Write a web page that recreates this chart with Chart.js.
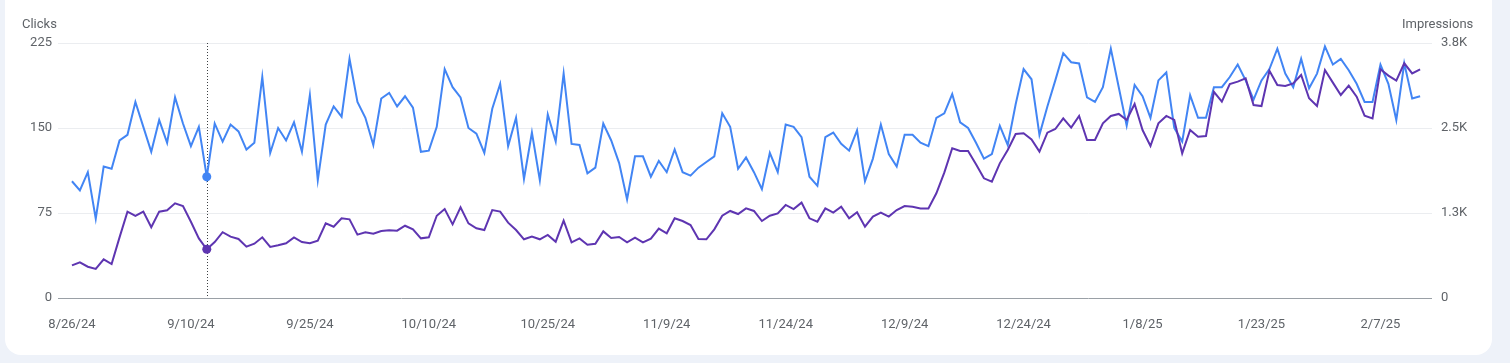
<!DOCTYPE html>
<html>
<head>
<meta charset="utf-8">
<script src="https://cdn.jsdelivr.net/npm/chart.js@4.4.1/dist/chart.umd.min.js"></script>
<style>
    body { margin: 0; background: #eef2f9; font-family: Roboto, sans-serif; overflow: hidden; }
    .card { position: absolute; left: 5px; top: -20px; width: 1487px; height: 375px; background: #fff; border-radius: 16px; }
    .wrap { position: absolute; left: 0; top: 0; width: 1510px; height: 363px; }
    .axis-title { position: absolute; top: 16px; font-size: 13px; line-height: 16px; color: #5f6368; }
</style>
</head>
<body>
<div class="card"></div>
<div class="wrap"><canvas id="gscChart"></canvas></div>
<div class="axis-title" style="left:22px">Clicks</div>
<div class="axis-title" style="left:1402px">Impressions</div>
<script>
// one value per day, 8/26/24 .. 2/12/25
let clicks = [
    103, 95, 111, 70, 116, 114, 139, 144, 173, 151,
    129, 157, 137, 177, 154, 134, 151, 107, 154, 138,
    153, 147, 131, 137, 195, 128, 150, 139, 155, 129,
    179, 104, 153, 169, 160, 211, 173, 159, 135, 176,
    181, 169, 178, 168, 129, 130, 151, 202, 186, 177,
    150, 145, 128, 167, 189, 134, 159, 105, 146, 104,
    162, 138, 198, 136, 135, 110, 115, 154, 139, 119,
    87, 125, 125, 107, 121, 111, 131, 111, 108, 115,
    120, 125, 163, 151, 114, 124, 111, 96, 128, 111,
    153, 151, 142, 107, 99, 142, 146, 136, 130, 148,
    103, 123, 153, 127, 116, 144, 144, 137, 134, 159,
    163, 180, 155, 150, 137, 123, 127, 152, 135, 171,
    202, 193, 144, 169, 192, 216, 208, 207, 177, 173,
    186, 220, 186, 152, 188, 178, 159, 192, 199, 150,
    138, 179, 159, 159, 186, 186, 195, 206, 192, 175,
    192, 202, 220, 198, 186, 211, 185, 198, 222, 206,
    211, 201, 189, 173, 173, 206, 189, 157, 207, 176,
    178
];

let impressions = [
    480, 525, 460, 427, 568, 500, 892, 1270, 1207, 1270,
    1040, 1270, 1290, 1392, 1353, 1122, 877, 717, 823, 967,
    902, 868, 755, 798, 892, 750, 775, 805, 892, 823,
    805, 843, 1098, 1048, 1172, 1157, 932, 967, 945, 985,
    995, 990, 1063, 1010, 877, 892, 1210, 1308, 1083, 1333,
    1098, 1025, 1000, 1293, 1270, 1108, 1000, 863, 902, 863,
    927, 828, 1137, 818, 877, 783, 798, 980, 882, 897,
    818, 887, 818, 872, 1020, 952, 1172, 1132, 1073, 868,
    863, 1010, 1210, 1280, 1235, 1318, 1280, 1132, 1210, 1245,
    1368, 1308, 1402, 1172, 1123, 1318, 1255, 1343, 1172, 1260,
    1048, 1197, 1255, 1197, 1293, 1353, 1343, 1318, 1318, 1540,
    1843, 2202, 2162, 2162, 1967, 1760, 1710, 1980, 2177, 2412,
    2422, 2333, 2152, 2432, 2485, 2642, 2505, 2677, 2323, 2323,
    2568, 2677, 2707, 2618, 2853, 2470, 2235, 2568, 2677, 2618,
    2127, 2470, 2372, 2382, 3033, 2887, 3147, 3182, 3230, 2838,
    2823, 3343, 3132, 3118, 3157, 3280, 2937, 2823, 3353, 3167,
    2985, 3123, 2960, 2682, 2642, 3363, 3270, 3197, 3452, 3303,
    3363
];

let dateTicks = ['8/26/24', '9/10/24', '9/25/24', '10/10/24', '10/25/24', '11/9/24',
    '11/24/24', '12/9/24', '12/24/24', '1/8/25', '1/23/25', '2/7/25'];
let clickTicks = [0, 75, 150, 225];
let impressionTicks = [0, 1250, 2500, 3750];
let impressionLabels = ['0', '1.3K', '2.5K', '3.8K'];

let tickStep = 15;   // days between date labels
let hoverIndex = 17; // 9/12/24

const textColor = '#5f6368';
const font = { family: 'Roboto', size: 13 };

const hoverLine = {
    id: 'hoverLine',
    beforeDatasetsDraw(chart) {
        const ctx = chart.ctx;
        const x = Math.round(chart.scales.x.getPixelForValue(hoverIndex)) + 0.5;
        ctx.save();
        ctx.strokeStyle = '#3c4043';
        ctx.lineWidth = 1;
        ctx.setLineDash([1, 2]);
        ctx.beginPath();
        ctx.moveTo(x, chart.chartArea.top);
        ctx.lineTo(x, chart.chartArea.bottom);
        ctx.stroke();
        ctx.restore();
    }
};

function hoverDot(c) {
    return c.dataIndex === hoverIndex ? 4.5 : 0;
}

new Chart('gscChart', {
    type: 'line',
    data: {
        datasets: [{
            label: 'Impressions',
            data: impressions.map((v, i) => ({ x: i, y: v })),
            yAxisID: 'y1',
            borderColor: '#5e35b1',
            backgroundColor: '#5e35b1',
            borderWidth: 2,
            pointRadius: hoverDot,
            pointBorderWidth: 0,
            tension: 0
        }, {
            label: 'Clicks',
            data: clicks.map((v, i) => ({ x: i, y: v })),
            yAxisID: 'y',
            borderColor: '#4285f4',
            backgroundColor: '#4285f4',
            borderWidth: 2,
            pointRadius: hoverDot,
            pointBorderWidth: 0,
            tension: 0
        }]
    },
    options: {
        responsive: true,
        maintainAspectRatio: false,
        animation: false,
        events: [],
        layout: { padding: { top: 43, left: 0, right: 0, bottom: 0 } },
        plugins: { legend: { display: false }, tooltip: { enabled: false } },
        scales: {
            x: {
                type: 'linear',
                min: -1.76,
                max: clicks.length - 1 + 1.5,
                afterFit: s => { s.height = 65; },
                afterBuildTicks: s => { s.ticks = dateTicks.map((t, i) => ({ value: i * tickStep })); },
                grid: { display: false },
                border: { display: false },
                ticks: {
                    autoSkip: false,
                    maxRotation: 0,
                    padding: 11,
                    color: textColor,
                    font: font,
                    callback: (v) => dateTicks[Math.round(v / tickStep)]
                }
            },
            y: {
                position: 'left',
                min: 0,
                max: 225,
                afterFit: s => { s.width = 58; },
                afterBuildTicks: s => { s.ticks = clickTicks.map(v => ({ value: v })); },
                border: { display: false },
                grid: {
                    drawTicks: false,
                    color: c => c.tick.value === 0 ? '#9aa0a6' : '#ebedf0'
                },
                ticks: { padding: 6, color: textColor, font: font }
            },
            y1: {
                position: 'right',
                min: 0,
                max: 3750,
                afterFit: s => { s.width = 78; },
                afterBuildTicks: s => { s.ticks = impressionTicks.map(v => ({ value: v })); },
                border: { display: false },
                grid: { display: false, drawTicks: false },
                ticks: {
                    padding: 9,
                    color: textColor,
                    font: font,
                    callback: (v) => impressionLabels[impressionTicks.indexOf(v)]
                }
            }
        }
    },
    plugins: [hoverLine]
});
</script>
</body>
</html>
